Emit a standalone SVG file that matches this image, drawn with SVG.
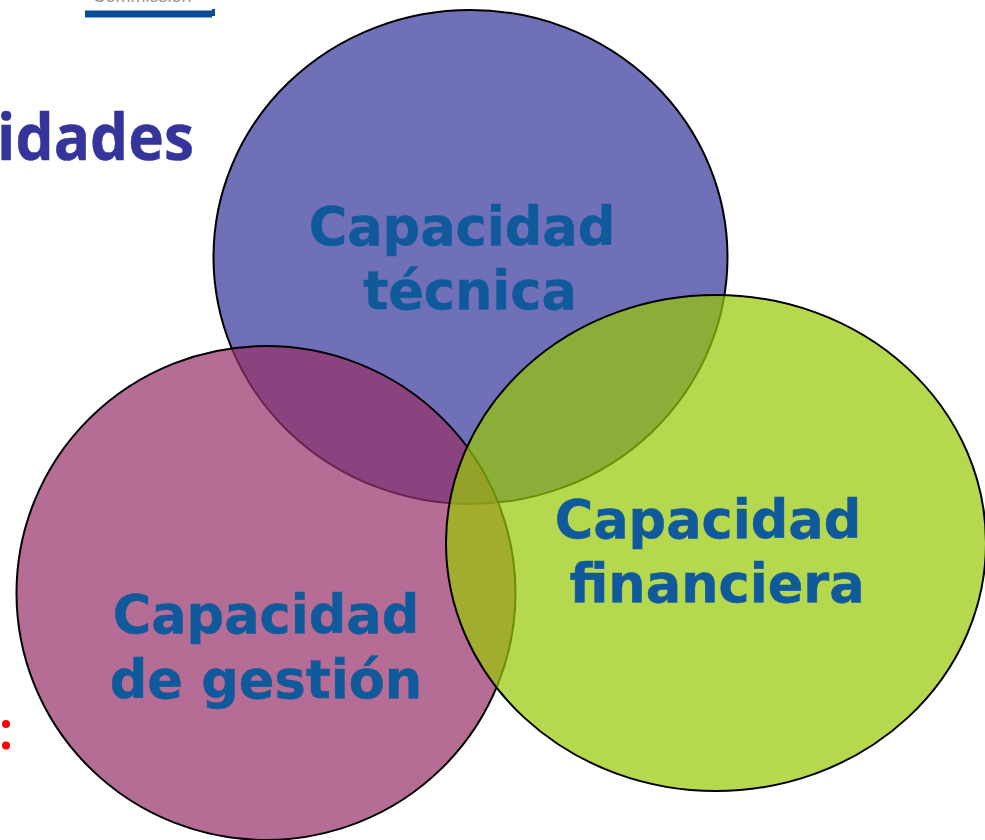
<svg xmlns="http://www.w3.org/2000/svg" width="985" height="840" viewBox="0 0 985 840">
<style>
.c{stroke:#000;stroke-width:2;fill-opacity:.71}
.l{font-family:"DejaVu Sans",Verdana,sans-serif;font-weight:700;font-size:52.500px;fill:#105a9c;stroke:#105a9c;stroke-width:.5;text-anchor:middle}
</style>
<rect width="985" height="840" fill="#fff"/>
<g id="header">
<text x="142" y="2" font-family="'Liberation Sans',sans-serif" font-size="18" fill="#999" text-anchor="middle">Commission</text>
<path d="M85 10.500H212V9H215V16H212V17.500H85Z" fill="#0b4a94"/>
</g>
<g id="title"><text x="-3" y="160" font-family="'Open Sans','Noto Sans',sans-serif" font-weight="700" font-size="65" textLength="197" lengthAdjust="spacingAndGlyphs" fill="#35349a" stroke="#35349a" stroke-width=".5">idades</text></g>
<g id="colon" fill="#f00"><circle cx="6" cy="724" r="4"/><circle cx="6" cy="745.500" r="4"/></g>
<g id="tecnica">
<ellipse class="c" cx="470.500" cy="257" rx="257" ry="247" fill="#34369a"/>
</g>
<g id="gestion">
<ellipse class="c" cx="266" cy="593" rx="249.500" ry="247" fill="#97316a"/>
</g>
<g id="financiera">
<ellipse class="c" cx="716" cy="543" rx="270" ry="248" fill="#97c806"/>
</g>
<g id="labels">
<text class="l" x="462" y="245">Capacidad</text>
<text class="l" x="470" y="309">técnica</text>
<text class="l" x="266" y="633">Capacidad</text>
<text class="l" x="266" y="698">de gestión</text>
<text class="l" x="708" y="538">Capacidad</text>
<text class="l" x="717" y="602">financiera</text>
</g>
</svg>
